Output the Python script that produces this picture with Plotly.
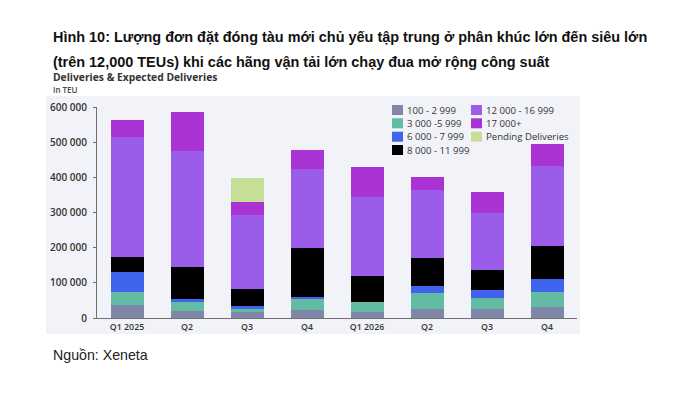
import plotly.graph_objects as go

# ---------------- data ----------------
categories = ["Q1 2025", "Q2 2025", "Q3 2025", "Q4 2025",
              "Q1 2026", "Q2 2026", "Q3 2026", "Q4 2026"]
tick_labels = ["Q1 2025", "Q2", "Q3", "Q4", "Q1 2026", "Q2", "Q3", "Q4"]

s_100_2999 = [36000, 21000, 16000, 24000, 16000, 26000, 26000, 31000]
s_3000_5999 = [37000, 25000, 10000, 32000, 29000, 45000, 31000, 42000]
s_6000_7999 = [59000, 9000, 7000, 5000, 0, 21000, 23000, 38000]
s_8000_11999 = [41000, 89000, 49000, 137000, 75000, 80000, 56000, 95000]
s_12000_16999 = [343000, 330000, 212000, 227000, 225000, 191000, 163000, 227000]
s_17000_plus = [48000, 111000, 35000, 53000, 84000, 37000, 60000, 63000]
s_pending = [0, 0, 69000, 0, 0, 0, 0, 0]

series_names = ["100 - 2 999", "3 000 -5 999", "6 000 - 7 999", "8 000 - 11 999",
                "12 000 - 16 999", "17 000+", "Pending Deliveries"]
series_values = [s_100_2999, s_3000_5999, s_6000_7999, s_8000_11999,
                 s_12000_16999, s_17000_plus, s_pending]
series_colors = ["#7F86A7", "#63BBA3", "#4063EE", "#000000",
                 "#9B5CE9", "#A933D3", "#C7DE98"]

y_ticks = [0, 100000, 200000, 300000, 400000, 500000, 600000]
y_tick_text = ["0" if v == 0 else f"{v:,}".replace(",", " ") for v in y_ticks]

# ---------------- layout geometry ----------------
W, H = 690, 400
OFF = 8  # page body margin of the browser
# plot area in screen pixels
SL, SR, ST, SB = 97, 577, 107, 318
PL, PR, PT, PB = SL - OFF, SR - OFF, ST - OFF, SB - OFF  # in figure pixels


def px_x(px):
    return (px - SL) / (SR - SL)


def px_y(py):
    return (SB - py) / (SB - ST)


fig = go.Figure()
for name, vals, col in zip(series_names, series_values, series_colors):
    fig.add_trace(go.Bar(
        x=categories, y=vals, name=name,
        marker=dict(color=col, line=dict(width=0)),
        showlegend=False,
    ))

CHART_FONT = "Open Sans, Lato, sans-serif"
TITLE_FONT = "Liberation Sans, Arial"

annotations = [
    dict(text="<b>Hình 10: Lượng đơn đặt đóng tàu mới chủ yếu tập trung ở phân khúc lớn đến siêu lớn</b>",
         x=px_x(51), y=px_y(37), xanchor="left", yanchor="middle",
         font=dict(family=TITLE_FONT, size=14.45, color="#111111")),
    dict(text="<b>(trên 12,000 TEUs) khi các hãng vận tải lớn chạy đua mở rộng công suất</b>",
         x=px_x(51), y=px_y(62), xanchor="left", yanchor="middle",
         font=dict(family=TITLE_FONT, size=14.45, color="#111111")),
    dict(text="Deliveries & Expected Deliveries",
         x=px_x(51), y=px_y(76.5), xanchor="left", yanchor="middle",
         font=dict(family=CHART_FONT, size=10.3, color="#333333", weight=700)),
    dict(text="In TEU",
         x=px_x(51), y=px_y(89), xanchor="left", yanchor="middle",
         font=dict(family=CHART_FONT, size=8, color="#444444", weight=600)),
    dict(text="Nguồn: Xeneta",
         x=px_x(51), y=px_y(355), xanchor="left", yanchor="middle",
         font=dict(family=TITLE_FONT, size=14.2, color="#222222")),
]

shapes = [
    dict(type="rect", xref="paper", yref="paper", layer="below",
         x0=px_x(46), x1=px_x(580), y0=px_y(334), y1=px_y(96),
         fillcolor="#F1F3F8", line=dict(width=0)),
]

# manual two-column legend
legend_cols = [
    (392, [0, 1, 2, 3]),
    (471, [4, 5, 6]),
]
row_y = [110, 123.3, 136.7, 150]
for col_x, idxs in legend_cols:
    for r, i in enumerate(idxs):
        yc = row_y[r]
        shapes.append(dict(type="rect", xref="paper", yref="paper",
                           x0=px_x(col_x), x1=px_x(col_x + 11),
                           y0=px_y(yc + 5), y1=px_y(yc - 5),
                           fillcolor=series_colors[i], line=dict(width=0)))
        annotations.append(dict(text=series_names[i],
                                x=px_x(col_x + 13), y=px_y(yc),
                                xanchor="left", yanchor="middle",
                                font=dict(family=CHART_FONT, size=9.6,
                                          color="#333333", weight=500)))

for a in annotations:
    a.update(xref="paper", yref="paper", showarrow=False)

fig.update_layout(
    width=W, height=H,
    margin=dict(l=PL, r=W - PR, t=PT, b=H - PB, pad=0),
    barmode="stack",
    bargap=0.45,
    paper_bgcolor="white",
    plot_bgcolor="rgba(0,0,0,0)",
    showlegend=False,
    annotations=annotations,
    shapes=shapes,
    font=dict(family=CHART_FONT, color="#333333"),
    xaxis=dict(
        type="category",
        tickvals=categories, ticktext=tick_labels,
        showline=True, linecolor="#707070", linewidth=1,
        showgrid=False, ticks="", zeroline=False,
        tickfont=dict(family=CHART_FONT, size=8.8, color="#333333", weight=600),
        ticklabelstandoff=0,
    ),
    yaxis=dict(
        range=[0, 600000],
        tickvals=y_ticks, ticktext=y_tick_text,
        showline=True, linecolor="#707070", linewidth=1,
        ticks="outside", ticklen=3, tickcolor="#707070",
        ticklabelstandoff=4,
        showgrid=False, zeroline=False,
        tickfont=dict(family=CHART_FONT, size=10, color="#333333", weight=600),
    ),
)

fig.write_html("out.html")
